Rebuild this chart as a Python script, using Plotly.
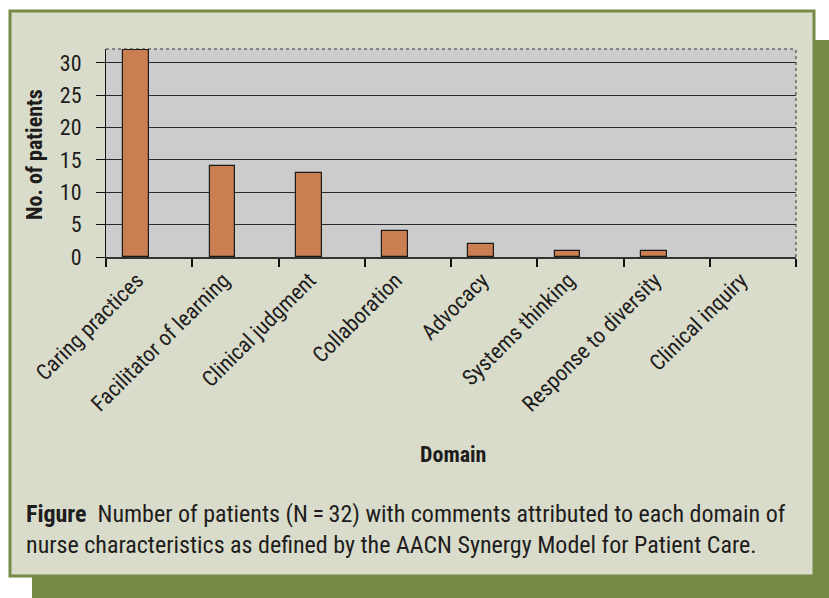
import plotly.graph_objects as go

categories = ["Caring practices", "Facilitator of learning", "Clinical judgment",
              "Collaboration", "Advocacy", "Systems thinking",
              "Response to diversity", "Clinical inquiry"]
patients = [32, 14, 13, 4, 2, 1, 1, 0]
y_ticks = [0, 5, 10, 15, 20, 25, 30]

W, H = 829, 598
L, R, T, B = 106, 796, 49, 257   # plot area in pixels

def px(x):
    return (x - L) / (R - L)

def py(y):
    return (B - y) / (B - T)

FONT = "Roboto Condensed, Liberation Sans Narrow, Roboto, sans-serif"
TXT = "#1e1c1c"
OLIVE = "#758a42"
PANEL = "#d9dccb"

fig = go.Figure()
fig.add_trace(go.Bar(
    x=categories, y=patients,
    width=0.30, offset=-0.30,
    marker=dict(color="#c97f51",
                line=dict(color="#1a1a1a", width=[1.2 if v > 0 else 0 for v in patients])),
    cliponaxis=False,
    showlegend=False,
))

shapes = [
    # olive shadow
    dict(type="rect", xref="paper", yref="paper", layer="below",
         x0=px(32), x1=px(829), y0=py(40), y1=py(598),
         fillcolor=OLIVE, line=dict(width=0)),
    # panel
    dict(type="rect", xref="paper", yref="paper", layer="below",
         x0=px(10), x1=px(814), y0=py(11), y1=py(576),
         fillcolor=PANEL, line=dict(color=OLIVE, width=3)),
    # plot area
    dict(type="rect", xref="paper", yref="paper", layer="below",
         x0=0, x1=1, y0=0, y1=1,
         fillcolor="#cccccc", line=dict(width=0)),
    # dotted top / right border
    dict(type="line", xref="paper", yref="paper", x0=0, x1=1, y0=1, y1=1,
         line=dict(color="#333333", width=1, dash="dot")),
    dict(type="line", xref="paper", yref="paper", x0=1, x1=1, y0=0, y1=1,
         line=dict(color="#333333", width=1, dash="dot")),
]

annotations = [
    dict(text="<b>No. of patients</b>", xref="paper", yref="paper",
         x=px(34), y=py(155), xanchor="center", yanchor="middle", textangle=-90,
         showarrow=False, font=dict(family=FONT, size=22, color=TXT)),
    dict(text="<b>Domain</b>", xref="paper", yref="paper",
         x=px(453), y=py(454), xanchor="center", yanchor="middle",
         showarrow=False, font=dict(family=FONT, size=22, color=TXT)),
    dict(text="<b>Figure</b>  Number of patients (N\u2009=\u200932) with comments attributed to each domain of<br>"
              "nurse characteristics as defined by the AACN Synergy Model for Patient Care.",
         xref="paper", yref="paper", x=px(24), y=py(529), xanchor="left", yanchor="middle",
         align="left", showarrow=False, font=dict(family=FONT, size=24, color=TXT)),
]

fig.update_layout(
    width=W, height=H,
    margin=dict(l=L, r=W - R, t=T, b=H - B),
    paper_bgcolor="white",
    plot_bgcolor="rgba(0,0,0,0)",
    shapes=shapes,
    annotations=annotations,
    bargap=0,
    font=dict(family=FONT, size=22, color=TXT),
)
fig.update_xaxes(
    type="category", tickson="boundaries", ticks="outside", ticklen=8,
    tickcolor="#111111", tickwidth=1.5, tickangle=-45, ticklabelshift=-12,
    showline=True, linecolor="#333333", linewidth=1.5,
    showgrid=False, tickfont=dict(family=FONT, size=22, color=TXT),
    range=[-0.5, 7.5],
)
fig.update_yaxes(
    range=[0, 32.15], tickvals=y_ticks, ticks="outside", ticklen=9,
    tickcolor="#111111", tickwidth=1.2, ticklabelstandoff=10,
    showline=True, linecolor="#111111", linewidth=1.2,
    showgrid=True, gridcolor="#2a2a2a", gridwidth=1.4,
    zeroline=False, tickfont=dict(family=FONT, size=22, color=TXT),
)

fig.write_html("out.html", post_script="document.body.style.margin='0';",
               config={"displayModeBar": False})
